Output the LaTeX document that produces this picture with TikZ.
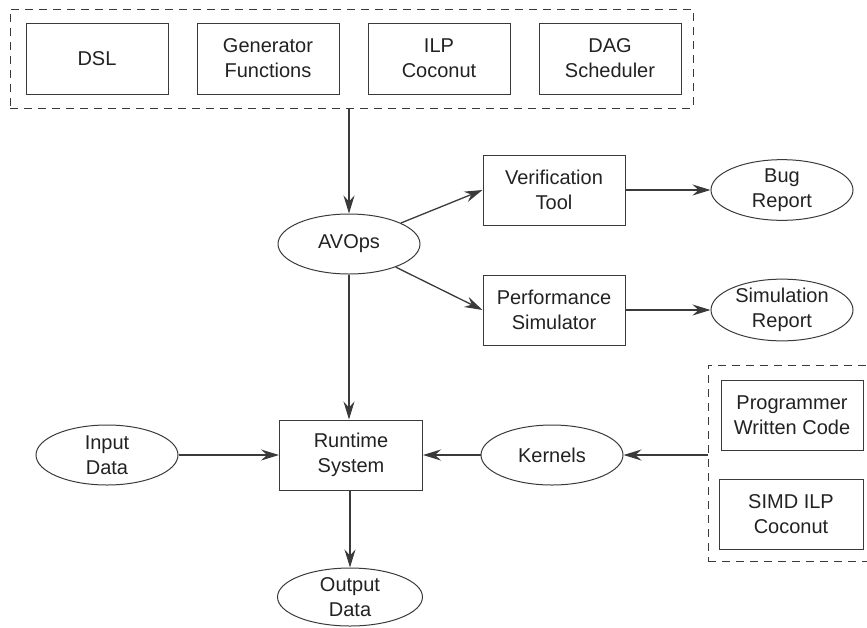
\documentclass[tikz,border=0pt]{standalone}
\usepackage{fontspec}
\setmainfont{Liberation Sans}
\usetikzlibrary{shapes.geometric,arrows.meta}
\definecolor{ink}{HTML}{222222}
\definecolor{edge}{HTML}{3A3A3A}
\begin{document}
\begin{tikzpicture}[x=1pt,y=-1pt,
  every node/.style={font=\fontsize{20}{25}\selectfont, text=ink, align=center, inner sep=0pt},
  blk/.style={draw=edge, line width=1pt, rectangle, minimum width=142pt, minimum height=70pt},
  oval/.style={draw=edge, line width=1pt, ellipse, minimum width=142pt, minimum height=60pt},
  group/.style={draw=edge, line width=0.9pt, dash pattern=on 8pt off 6pt, rectangle},
  flow/.style={draw=edge, line width=1.3pt, -{Stealth[length=18pt,width=11pt,inset=6pt]}}]
\useasboundingbox (0,0) rectangle (867,627);

% front-end tool group
\node[group, minimum width=683pt, minimum height=99pt] (tools) at (351.5,58.5) {};
\node[blk, minimum height=71pt] (dsl) at (97,58.5) {DSL};
\node[blk, minimum height=71pt] (gen) at (268,58.5) {Generator\\Functions};
\node[blk, minimum height=71pt] (ilp) at (439,58.5) {ILP\\Coconut};
\node[blk, minimum height=71pt] (dag) at (610,58.5) {DAG\\Scheduler};

% central pipeline
\node[oval] (avops) at (349,244) {AVOps};
\node[blk] (ver) at (554,190) {Verification\\Tool};
\node[blk] (perf) at (554,310) {Performance\\Simulator};
\node[oval] (bug) at (782,190) {Bug\\Report};
\node[oval] (sim) at (782,310) {Simulation\\Report};

\node[blk, minimum width=143pt] (run) at (351,455) {Runtime\\System};
\node[oval] (inp) at (107,455) {Input\\Data};
\node[oval] (ker) at (552,455) {Kernels};
\node[oval, minimum width=145pt, minimum height=58pt] (out) at (350,597) {Output\\Data};

% kernel sources group
\node[group, minimum width=170pt, minimum height=196pt] (src) at (793,463) {};
\node[blk] (prog) at (792,415) {Programmer\\Written Code};
\node[blk, minimum width=144pt] (simd) at (791,514) {SIMD ILP\\Coconut};

% connectors
\draw[flow] (avops |- tools.south) -- (avops.north);
\draw[flow] (avops) -- (ver.west);
\draw[flow] (avops) -- (perf.west);
\draw[flow] (ver) -- (bug);
\draw[flow] (perf) -- (sim);
\draw[flow] (avops.south) -- (avops.south |- run.north);
\draw[flow] (inp) -- (run);
\draw[flow] (ker) -- (run);
\draw[flow] (src.west |- ker) -- (ker);
\draw[flow] (run.south -| out.north) -- (out.north);
\end{tikzpicture}
\end{document}
